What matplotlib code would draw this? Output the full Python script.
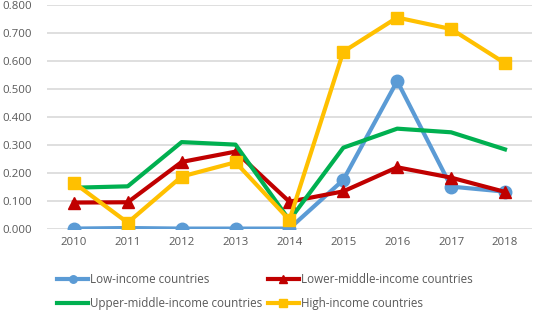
import matplotlib.pyplot as plt

years = ['2010', '2011', '2012', '2013', '2014', '2015', '2016', '2017', '2018']
low_income = [0.000, 0.002, 0.000, 0.000, 0.000, 0.174, 0.527, 0.150, 0.132]
lower_middle = [0.093, 0.094, 0.238, 0.275, 0.096, 0.133, 0.219, 0.182, 0.131]
upper_middle = [0.146, 0.151, 0.309, 0.300, 0.030, 0.289, 0.357, 0.344, 0.283]
high_income = [0.164, 0.021, 0.186, 0.237, 0.031, 0.632, 0.754, 0.713, 0.591]

plt.rcParams['font.family'] = ['Open Sans', 'DejaVu Sans']

fig = plt.figure(figsize=(5.33, 3.11), dpi=100)
ax = fig.add_axes([0.088, 0.265, 0.91, 0.72])

x = range(len(years))
l1, = ax.plot(x, low_income, color='#5B9BD5', lw=3, marker='o', ms=9, label='Low-income countries')
l2, = ax.plot(x, lower_middle, color='#C00000', lw=3, marker='^', ms=9, label='Lower-middle-income countries')
l3, = ax.plot(x, upper_middle, color='#00B050', lw=3, label='Upper-middle-income countries')
l4, = ax.plot(x, high_income, color='#FFC000', lw=3, marker='s', ms=8.5, label='High-income countries')

ax.set_xlim(-0.5, len(years) - 0.5)
ax.set_ylim(0, 0.8)
ax.set_yticks([i / 10 for i in range(9)])
ax.set_yticklabels(['%.3f' % (i / 10) for i in range(9)])
ax.set_xticks(list(x))
ax.set_xticklabels(years)
ax.tick_params(length=0, labelsize=8.2, colors='#595959')
ax.tick_params(axis='y', pad=11)
ax.tick_params(axis='x', pad=6)
ax.grid(axis='y', color='#D9D9D9', lw=1.2)
ax.set_axisbelow(True)
for s in ax.spines.values():
    s.set_visible(False)

# row-major order like the original: matplotlib fills legend columns first
handles = [l1, l3, l2, l4]
fig.legend(handles, [h.get_label() for h in handles], ncol=2, loc='lower left',
           bbox_to_anchor=(0.087, -0.03), frameon=False, fontsize=8.4,
           handlelength=2.7, handletextpad=0.15, columnspacing=0.45,
           labelspacing=0.9, labelcolor='#595959', markerscale=0.6)

fig.savefig('out.png', dpi=100)
